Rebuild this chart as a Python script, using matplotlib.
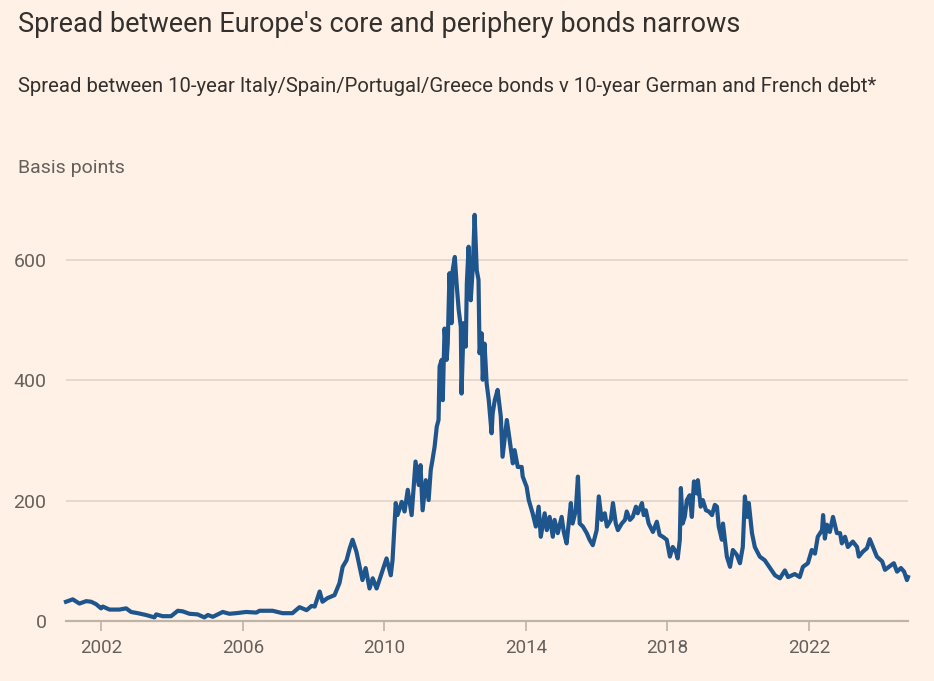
import matplotlib.pyplot as plt

# spread, basis points (decimal years)
years = [
    2001.00, 2001.19, 2001.38, 2001.57, 2001.71, 2001.85, 2001.99, 2002.04, 2002.23, 2002.51,
    2002.70, 2002.84, 2003.03, 2003.26, 2003.50, 2003.55, 2003.73, 2003.97, 2004.16, 2004.30,
    2004.49, 2004.72, 2004.91, 2005.01, 2005.15, 2005.43, 2005.62, 2005.81, 2006.09, 2006.38,
    2006.47, 2006.84, 2007.12, 2007.40, 2007.60, 2007.80, 2007.94, 2008.03, 2008.17, 2008.25,
    2008.39, 2008.59, 2008.73, 2008.82, 2008.93, 2009.02, 2009.10, 2009.21, 2009.30, 2009.38,
    2009.47, 2009.58, 2009.67, 2009.78, 2009.92, 2010.06, 2010.18, 2010.23, 2010.32, 2010.37,
    2010.49, 2010.57, 2010.66, 2010.77, 2010.88, 2010.97, 2011.02, 2011.08, 2011.17, 2011.25,
    2011.31, 2011.36, 2011.42, 2011.48, 2011.53, 2011.56, 2011.62, 2011.65, 2011.70, 2011.76,
    2011.79, 2011.84, 2011.90, 2011.93, 2011.99, 2012.04, 2012.10, 2012.16, 2012.18, 2012.24,
    2012.30, 2012.33, 2012.38, 2012.44, 2012.50, 2012.55, 2012.61, 2012.66, 2012.69, 2012.75,
    2012.78, 2012.83, 2012.89, 2012.95, 2013.03, 2013.06, 2013.12, 2013.20, 2013.29, 2013.34,
    2013.46, 2013.54, 2013.63, 2013.68, 2013.77, 2013.88, 2013.91, 2014.02, 2014.08, 2014.19,
    2014.28, 2014.36, 2014.42, 2014.53, 2014.59, 2014.67, 2014.76, 2014.81, 2014.90, 2015.01,
    2015.07, 2015.15, 2015.27, 2015.32, 2015.41, 2015.47, 2015.52, 2015.61, 2015.72, 2015.80,
    2015.89, 2016.00, 2016.06, 2016.14, 2016.23, 2016.29, 2016.40, 2016.46, 2016.54, 2016.60,
    2016.71, 2016.80, 2016.85, 2016.94, 2017.02, 2017.11, 2017.16, 2017.28, 2017.33, 2017.39,
    2017.47, 2017.59, 2017.70, 2017.78, 2017.87, 2017.98, 2018.07, 2018.15, 2018.24, 2018.29,
    2018.35, 2018.38, 2018.43, 2018.49, 2018.55, 2018.63, 2018.69, 2018.75, 2018.83, 2018.86,
    2018.94, 2019.00, 2019.09, 2019.17, 2019.26, 2019.34, 2019.40, 2019.45, 2019.54, 2019.57,
    2019.68, 2019.77, 2019.85, 2019.96, 2020.05, 2020.13, 2020.19, 2020.25, 2020.30, 2020.39,
    2020.47, 2020.61, 2020.75, 2020.90, 2021.04, 2021.18, 2021.32, 2021.41, 2021.60, 2021.74,
    2021.83, 2021.97, 2022.08, 2022.17, 2022.25, 2022.37, 2022.40, 2022.45, 2022.51, 2022.59,
    2022.68, 2022.79, 2022.88, 2022.93, 2023.02, 2023.10, 2023.24, 2023.36, 2023.41, 2023.52,
    2023.64, 2023.72, 2023.81, 2023.92, 2024.07, 2024.15, 2024.26, 2024.40, 2024.49, 2024.60,
    2024.69, 2024.77, 2024.80,
]
spread = [
    32, 36, 29, 33, 32, 28, 21, 24, 19, 19,
    21, 15, 13, 10, 6, 11, 8, 8, 17, 16,
    12, 11, 6, 10, 7, 15, 12, 13, 15, 14,
    17, 17, 13, 13, 23, 18, 25, 24, 49, 32,
    38, 43, 63, 90, 101, 121, 135, 115, 90, 68,
    88, 54, 71, 54, 79, 104, 76, 101, 196, 176,
    198, 182, 218, 176, 265, 226, 259, 184, 234, 201,
    251, 268, 290, 323, 334, 423, 434, 367, 486, 434,
    461, 578, 495, 583, 605, 561, 517, 489, 378, 495,
    456, 561, 622, 533, 589, 675, 583, 567, 445, 478,
    401, 461, 395, 367, 312, 345, 367, 384, 340, 273,
    334, 301, 262, 284, 256, 256, 240, 223, 201, 179,
    157, 190, 140, 179, 151, 173, 140, 168, 146, 173,
    148, 129, 196, 162, 184, 240, 162, 157, 146, 135,
    126, 151, 207, 168, 179, 157, 168, 196, 162, 151,
    162, 168, 182, 168, 173, 190, 179, 196, 176, 184,
    162, 148, 165, 143, 140, 135, 107, 123, 115, 104,
    135, 221, 162, 173, 201, 209, 173, 232, 212, 234,
    190, 201, 184, 182, 176, 193, 190, 157, 135, 162,
    107, 90, 118, 110, 96, 123, 207, 173, 196, 146,
    123, 107, 101, 88, 76, 71, 84, 73, 78, 73,
    90, 96, 118, 112, 140, 151, 176, 137, 160, 148,
    173, 146, 146, 129, 140, 123, 132, 123, 107, 115,
    121, 136, 123, 107, 99, 85, 90, 96, 82, 88,
    82, 68, 73,
]
y_ticks = [0, 200, 400, 600]
x_ticks = [2002, 2006, 2010, 2014, 2018, 2022]

bg = "#fff1e5"
plt.rcParams["font.family"] = ["Roboto", "DejaVu Sans"]

fig = plt.figure(figsize=(9.34, 6.81), dpi=100, facecolor=bg)
ax = fig.add_axes([66 / 934, 60 / 681, 842 / 934, 0.6185])
ax.set_facecolor(bg)

ax.plot(years, spread, color="#1e558c", lw=3.0, solid_joinstyle="round", clip_on=False, zorder=3)

ax.set_xlim(2001.0, 2024.8)
ax.set_ylim(0, 700)
ax.set_yticks(y_ticks)
ax.set_xticks(x_ticks)
ax.set_yticklabels([str(v) for v in y_ticks])
ax.set_xticklabels([str(v) for v in x_ticks])

for v in y_ticks[1:]:
    ax.axhline(v, color="#e4d6cb", lw=1.3, zorder=1)
ax.axhline(0, color="#bfb2a6", lw=1.6, zorder=2, clip_on=False)

for s in ax.spines.values():
    s.set_visible(False)
ax.tick_params(axis="y", length=0, pad=14, labelsize=14, labelcolor="#66605c")
ax.tick_params(axis="x", length=7, width=1.2, color="#bfb2a6", pad=6, labelsize=13.5, labelcolor="#66605c")

fig.text(18 / 934, 1 - 25 / 681, "Spread between Europe's core and periphery bonds narrows",
         fontsize=19.5, color="#33302e", va="center", ha="left")
fig.text(18 / 934, 1 - 86 / 681,
         "Spread between 10-year Italy/Spain/Portugal/Greece bonds v 10-year German and French debt*",
         fontsize=14.6, color="#33302e", va="center", ha="left")
fig.text(18 / 934, 1 - 168 / 681, "Basis points", fontsize=14, color="#66605c", va="center", ha="left")

fig.savefig("out.png", dpi=100, facecolor=bg)
